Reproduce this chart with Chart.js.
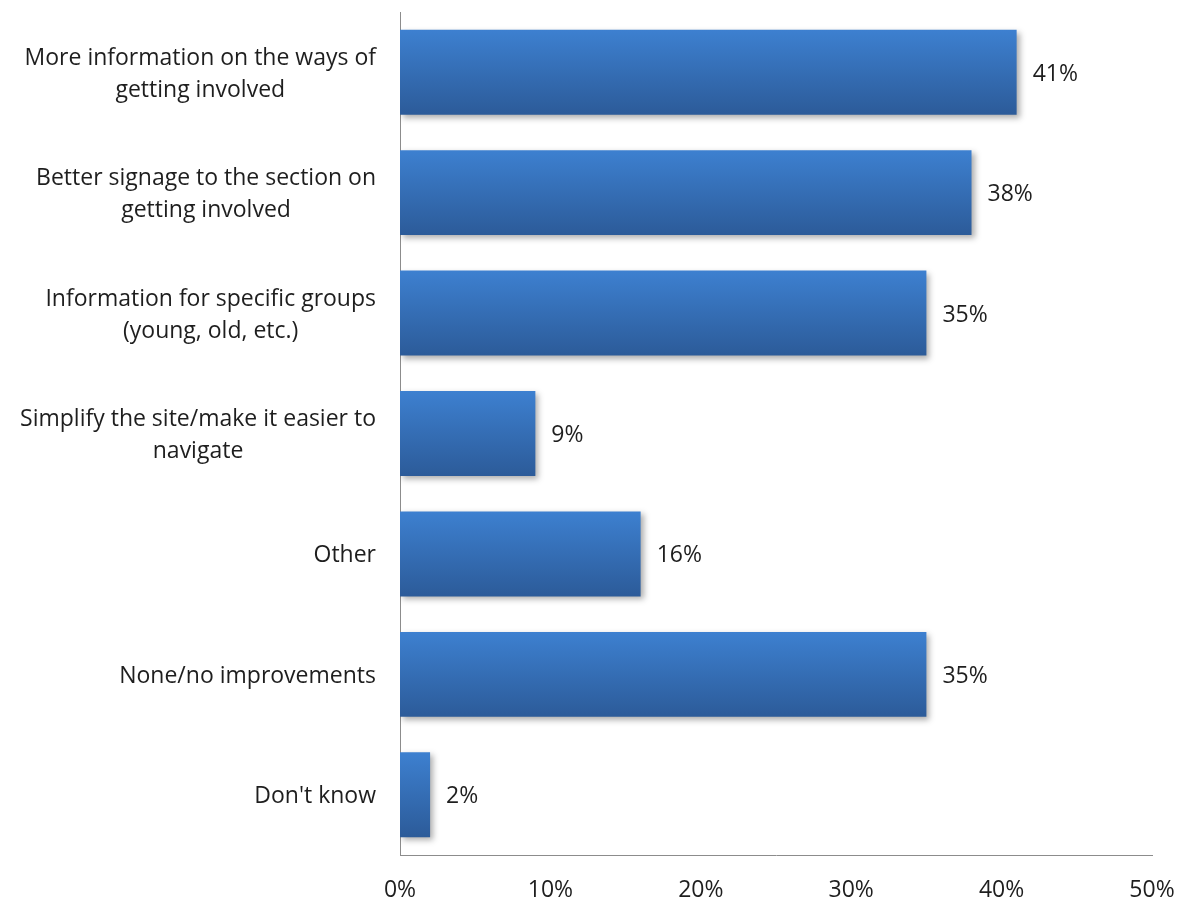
<!DOCTYPE html>
<html>
<head>
<meta charset="utf-8">
<script src="https://cdn.jsdelivr.net/npm/chart.js@4"></script>
<style>
  html, body { margin: 0; padding: 0; background: #ffffff; }
  #wrap { width: 1184px; height: 899px; }
</style>
</head>
<body>
<div id="wrap"><canvas id="chart" width="1184" height="899"></canvas></div>
<script>
// Survey answers: suggested improvements to the site
const categories = [
  ['More information on the ways of', 'getting involved'],
  ['Better signage to the section on', 'getting involved'],
  ['Information for specific groups', '(young, old, etc.)'],
  ['Simplify the site/make it easier to', 'navigate'],
  ['Other'],
  ['None/no improvements'],
  ["Don't know"]
];
const shares = [41, 38, 35, 9, 16, 35, 2];
const xTicks = [0, 10, 20, 30, 40, 50];

const FONT = '"Open Sans", "DejaVu Sans", sans-serif';
const FONT_SIZE = 23;
const TEXT = '#1e1e1e';
const AXIS = '#8c8c8c';
const CAT_PCT = 0.705;
const TEXT_NUDGE = 2; // Open Sans sits a little high with a 'middle' baseline

// vertical gradient per bar, lighter at the top
function barFill(ctx) {
  const chart = ctx.chart;
  const y = chart.scales.y;
  if (!chart.chartArea || !y || ctx.dataIndex === undefined) return '#3a78c4';
  const center = y.getPixelForValue(ctx.dataIndex);
  const half = (y.height / categories.length) * CAT_PCT / 2;
  const g = chart.ctx.createLinearGradient(0, center - half, 0, center + half);
  g.addColorStop(0, '#3d80d0');
  g.addColorStop(1, '#2c5b99');
  return g;
}

// soft drop shadow under the bars
const barShadow = {
  id: 'barShadow',
  beforeDatasetDraw(chart) {
    const c = chart.ctx;
    c.save();
    c.shadowColor = 'rgba(0,0,0,0.32)';
    c.shadowBlur = 6;
    c.shadowOffsetX = 3;
    c.shadowOffsetY = 3;
  },
  afterDatasetDraw(chart) {
    chart.ctx.restore();
  }
};

// category labels: each block right aligned to the axis, lines centred in the block
const categoryLabels = {
  id: 'categoryLabels',
  afterDraw(chart) {
    const c = chart.ctx;
    const y = chart.scales.y;
    const right = chart.chartArea.left - 24;
    const lineH = 32;
    c.save();
    c.font = FONT_SIZE + 'px ' + FONT;
    c.fillStyle = TEXT;
    c.textAlign = 'center';
    c.textBaseline = 'middle';
    categories.forEach((lines, i) => {
      const widest = Math.max(...lines.map(l => c.measureText(l).width));
      const cx = right - widest / 2;
      const cy = y.getPixelForValue(i) + TEXT_NUDGE;
      lines.forEach((l, k) => {
        c.fillText(l, cx, cy + (k - (lines.length - 1) / 2) * lineH);
      });
    });
    c.restore();
  }
};

// value labels to the right of each bar
const valueLabels = {
  id: 'valueLabels',
  afterDatasetsDraw(chart) {
    const c = chart.ctx;
    const meta = chart.getDatasetMeta(0);
    c.save();
    c.font = FONT_SIZE + 'px ' + FONT;
    c.fillStyle = TEXT;
    c.textAlign = 'left';
    c.textBaseline = 'middle';
    meta.data.forEach((bar, i) => {
      c.fillText(shares[i] + '%', bar.x + 16, bar.y + TEXT_NUDGE);
    });
    c.restore();
  }
};

new Chart(document.getElementById('chart'), {
  type: 'bar',
  data: {
    labels: categories.map(l => l.join(' ')),
    datasets: [{
      data: shares,
      backgroundColor: barFill,
      borderWidth: 0,
      barPercentage: 1,
      categoryPercentage: CAT_PCT
    }]
  },
  options: {
    indexAxis: 'y',
    responsive: false,
    animation: false,
    layout: { padding: { top: 12, right: 32, left: 0, bottom: 0 } },
    plugins: { legend: { display: false }, tooltip: { enabled: false } },
    scales: {
      x: {
        min: 0,
        max: 50,
        afterBuildTicks(scale) { scale.ticks = xTicks.map(v => ({ value: v })); },
        afterFit(scale) {
          scale.height = 44;
          scale.paddingLeft = 0;
          scale.paddingRight = 0;
        },
        grid: { display: false, drawTicks: false },
        border: { display: true, color: AXIS, width: 1 },
        ticks: {
          padding: 22,
          color: TEXT,
          font: { family: FONT, size: FONT_SIZE },
          callback: v => v + '%'
        }
      },
      y: {
        afterFit(scale) { scale.width = 400; },
        grid: { display: false, drawTicks: false },
        border: { display: true, color: AXIS, width: 1 },
        ticks: { display: false }
      }
    }
  },
  plugins: [barShadow, valueLabels, categoryLabels]
});
</script>
</body>
</html>
